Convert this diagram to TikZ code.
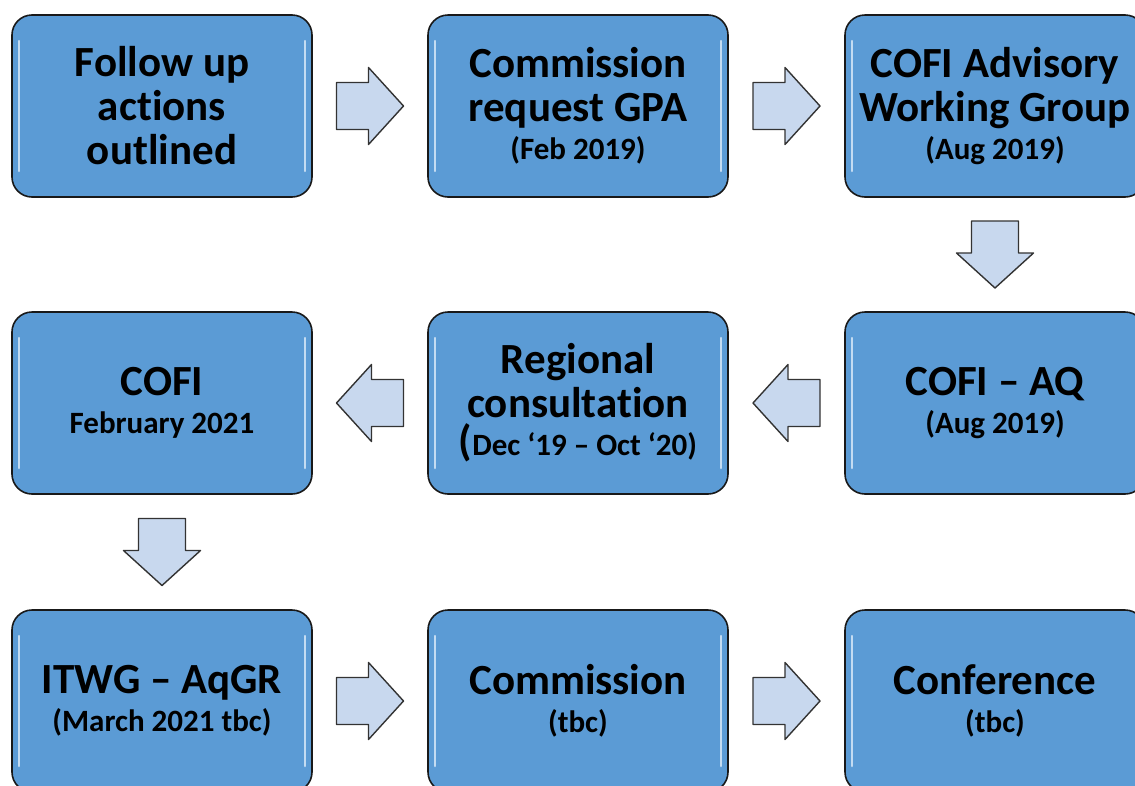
\documentclass[tikz,border=0pt]{standalone}
\usepackage{fontspec}
\setmainfont[Ligatures=NoCommon]{Carlito}
\usetikzlibrary{calc}
\definecolor{stageblue}{HTML}{5B9BD5}
\definecolor{stageglow}{HTML}{C4DCF2}
\definecolor{arrowfill}{HTML}{C8D8EE}
\newcommand{\stagedate}[1]{{\fontsize{31}{36}\selectfont #1}}

\begin{document}
\begin{tikzpicture}[x=1pt,y=-1pt,
    stage/.style={draw=black!90, line width=1.6pt, fill=stageblue,
      rounded corners=20pt, minimum width=300pt, minimum height=182pt,
      align=center, inner sep=0pt, font=\bfseries\fontsize{43}{44}\selectfont,
      path picture={
        \draw[stageglow, line width=2.5pt, line cap=round]
          ([xshift=7pt,yshift=-26pt]path picture bounding box.north west) --
          ([xshift=7pt,yshift=26pt]path picture bounding box.south west);
        \draw[stageglow, line width=2.5pt, line cap=round]
          ([xshift=-7pt,yshift=-26pt]path picture bounding box.north east) --
          ([xshift=-7pt,yshift=26pt]path picture bounding box.south east);
      }},
    flowarrow/.pic={
      \draw[black!80, line width=1.4pt, line join=round, fill=arrowfill]
        (-33.5,-23.5) -- (-1.5,-23.5) -- (-1.5,-38.5) -- (33.5,0)
        -- (-1.5,38.5) -- (-1.5,23.5) -- (-33.5,23.5) -- cycle;
    }]
  \useasboundingbox (0,0) rectangle (1135,785);
  % Reihe 1
  \node[stage] (follow) at (162,106) {Follow up\\actions\\outlined};
  \node[stage] (request) at (578,106) {Commission\\request GPA\\[-6pt]\stagedate{(Feb 2019)}};
  \node[stage] (advisory) at (995,106) {COFI Advisory\\Working Group\\[-6pt]\stagedate{(Aug 2019)}};
  % Reihe 2
  \node[stage] (cofiaq) at (995,403) {COFI – AQ\\[-6pt]\stagedate{(Aug 2019)}};
  \node[stage] (regional) at (578,403) {Regional\\consultation\\[-6pt](\stagedate{Dec ‘19 – Oct ‘20)}};
  \node[stage] (cofi) at (162,403) {COFI\\[-6pt]\stagedate{February 2021}};
  % Reihe 3
  \node[stage] (itwg) at (162,701) {ITWG – AqGR\\[-6pt]\stagedate{(March 2021 tbc)}};
  \node[stage] (commission) at (578,701) {Commission\\[-6pt]\stagedate{(tbc)}};
  \node[stage] (conference) at (995,701) {Conference\\[-6pt]\stagedate{(tbc)}};
  % Pfeile
  \pic at ($(follow.east)!0.5!(request.west)$) {flowarrow};
  \pic at ($(request.east)!0.5!(advisory.west)$) {flowarrow};
  \pic[rotate=-90] at ($(advisory.south)!0.5!(cofiaq.north)$) {flowarrow};
  \pic[rotate=180] at ($(cofiaq.west)!0.5!(regional.east)$) {flowarrow};
  \pic[rotate=180] at ($(regional.west)!0.5!(cofi.east)$) {flowarrow};
  \pic[rotate=-90] at ($(cofi.south)!0.5!(itwg.north)$) {flowarrow};
  \pic at ($(itwg.east)!0.5!(commission.west)$) {flowarrow};
  \pic at ($(commission.east)!0.5!(conference.west)$) {flowarrow};
\end{tikzpicture}
\end{document}
